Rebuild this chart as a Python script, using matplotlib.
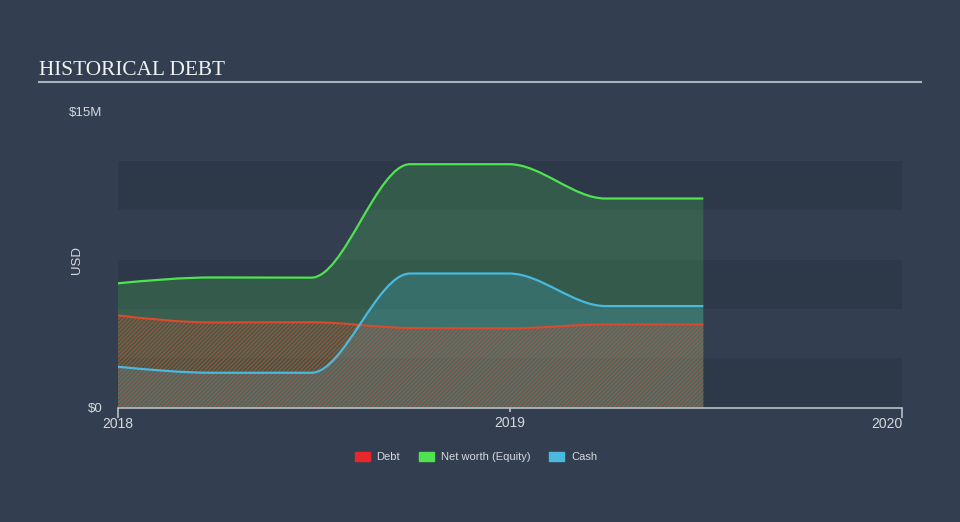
import numpy as np
import matplotlib.pyplot as plt
import matplotlib.dates as mdates
from matplotlib.path import Path
from matplotlib.patches import PathPatch, Patch

dates = np.array(['2017-12-31', '2018-03-31', '2018-06-30', '2018-09-30',
                  '2018-12-31', '2019-03-31', '2019-06-30'], dtype='datetime64[D]')
debt = [4.67, 4.31, 4.32, 4.03, 4.01, 4.21, 4.21]         # $M
net_worth = [6.29, 6.59, 6.58, 12.33, 12.33, 10.59, 10.59]
cash = [2.07, 1.76, 1.76, 6.79, 6.79, 5.14, 5.14]

x_ticks = ['2018', '2019', '2020']
y_ticks = ['$0', '$15M']

BG = '#333f50'
BAND = '#2d3949'
TXT = '#d5d9de'
RED = '#e8272b'
DEBT_LINE = '#dc4a2c'
GREEN = '#4fe34f'
BLUE = '#49b9de'


def monotone_path(x, y, close_to=None):
    # cubic bezier path like d3.curveMonotoneX
    x = np.asarray(x, float)
    y = np.asarray(y, float)
    n = len(x)
    h = np.diff(x)
    s = np.diff(y) / h
    t = np.zeros(n)
    for i in range(1, n - 1):
        p = (s[i - 1] * h[i] + s[i] * h[i - 1]) / (h[i - 1] + h[i])
        t[i] = (np.sign(s[i - 1]) + np.sign(s[i])) * min(abs(s[i - 1]), abs(s[i]), 0.5 * abs(p))
    t[0] = (3 * s[0] - t[1]) / 2
    t[-1] = (3 * s[-1] - t[-2]) / 2
    verts = [(x[0], y[0])]
    codes = [Path.MOVETO]
    for i in range(n - 1):
        dx = h[i] / 3
        verts += [(x[i] + dx, y[i] + dx * t[i]), (x[i + 1] - dx, y[i + 1] - dx * t[i + 1]),
                  (x[i + 1], y[i + 1])]
        codes += [Path.CURVE4] * 3
    if close_to is not None:
        verts += [(x[-1], close_to), (x[0], close_to), (x[0], y[0])]
        codes += [Path.LINETO, Path.LINETO, Path.CLOSEPOLY]
    return Path(verts, codes)


plt.rcParams['hatch.linewidth'] = 1.0

fig = plt.figure(figsize=(9.6, 5.22), dpi=100, facecolor=BG)
ax = fig.add_axes([118 / 960, 1 - 407.5 / 522, 784 / 960, 296 / 522])
ax.set_facecolor(BG)

xd = mdates.date2num(dates)
x0 = mdates.date2num(np.datetime64('2018-01-01'))
x1 = mdates.date2num(np.datetime64('2020-01-01'))
xm = mdates.date2num(np.datetime64('2019-01-01'))
ax.set_xlim(x0, x1)
ax.set_ylim(0, 15)

for lo in (0, 5, 10):
    ax.axhspan(lo, lo + 2.5, color=BAND, lw=0, zorder=0)

ax.add_patch(PathPatch(monotone_path(xd, net_worth, 0), facecolor=GREEN, alpha=0.2, lw=0, zorder=1))
ax.add_patch(PathPatch(monotone_path(xd, cash, 0), facecolor=BLUE, alpha=0.22, lw=0, zorder=2))
ax.add_patch(PathPatch(monotone_path(xd, debt, 0), facecolor='none', edgecolor=DEBT_LINE,
                       hatch='////////', lw=0, alpha=0.6, zorder=3))

ax.add_patch(PathPatch(monotone_path(xd, debt), fill=False, edgecolor=DEBT_LINE, lw=1.5, zorder=4))
ax.add_patch(PathPatch(monotone_path(xd, cash), fill=False, edgecolor=BLUE, lw=1.6, zorder=5))
ax.add_patch(PathPatch(monotone_path(xd, net_worth), fill=False, edgecolor=GREEN, lw=1.6, zorder=6))

for sp in ['top', 'right', 'left']:
    ax.spines[sp].set_visible(False)
ax.spines['bottom'].set_color('#b8c0c8')
ax.spines['bottom'].set_linewidth(1.2)
ax.spines['bottom'].set_zorder(7)

ax.set_xticks([x0, x1])
ax.set_xticks([xm], minor=True)
ax.set_xticklabels([x_ticks[0], x_ticks[2]], fontsize=10, color=TXT, family='Liberation Sans')
ax.set_xticklabels([x_ticks[1]], minor=True, fontsize=10, color=TXT, family='Liberation Sans')
ax.get_xticklabels()[-1].set_ha('right')
ax.tick_params(axis='x', which='major', length=7, width=1.2, color='#b8c0c8', pad=0)
ax.tick_params(axis='x', which='minor', length=3, width=1.2, color='#b8c0c8', pad=2.9)
ax.set_yticks([0, 15])
ax.set_yticklabels(y_ticks, fontsize=9.5, color=TXT, family='Liberation Sans')
ax.tick_params(axis='y', length=0, pad=11)
ax.get_yticklabels()[-1].set_y(15.15)
ax.set_ylabel('USD', fontsize=9.5, color=TXT, family='Liberation Sans')
ax.yaxis.set_label_coords(-0.045, 0.5)

fig.text(39 / 960, 1 - 75 / 522, 'HISTORICAL DEBT', fontsize=15.3, color='#f0f2f4',
         family='Liberation Serif', va='baseline', ha='left')
fig.add_artist(plt.Line2D([39 / 960, 921 / 960], [1 - 82 / 522] * 2, color='#aab2bb', lw=1.5))

handles = [Patch(color=RED), Patch(color=GREEN), Patch(color=BLUE)]
leg = fig.legend(handles, ['Debt', 'Net worth (Equity)', 'Cash'], loc='center',
                 bbox_to_anchor=(476 / 960, 1 - 457 / 522), ncol=3, frameon=False,
                 handlelength=1.35, handleheight=0.9, columnspacing=1.7,
                 handletextpad=0.6, prop={'family': 'Liberation Sans', 'size': 8})
for t in leg.get_texts():
    t.set_color(TXT)

fig.savefig('out.png', dpi=100, facecolor=BG)
